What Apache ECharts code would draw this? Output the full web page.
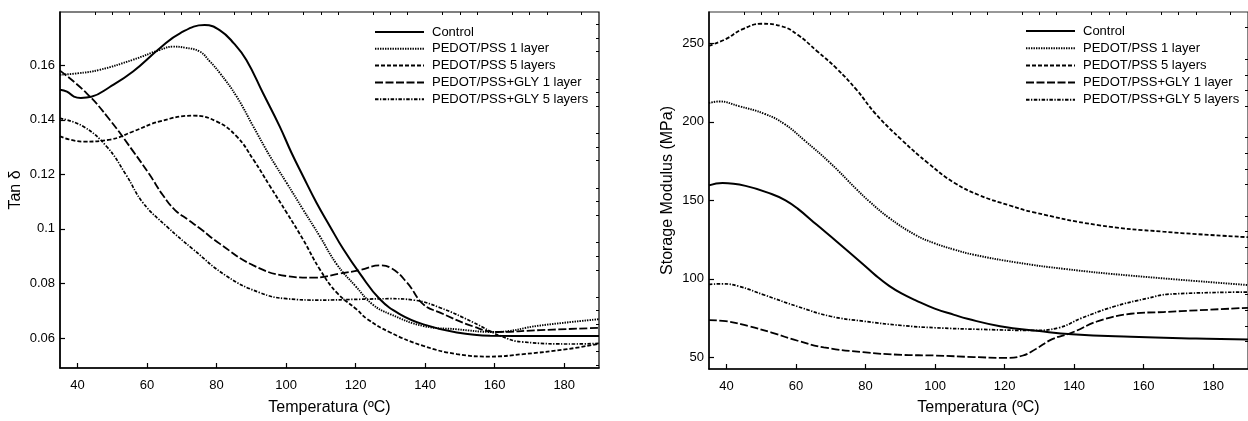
<!DOCTYPE html>
<html>
<head>
<meta charset="utf-8">
<script src="https://cdn.jsdelivr.net/npm/echarts@6/dist/echarts.min.js"></script>
<style>
html,body{margin:0;padding:0;background:#fff;}
#c{width:1248px;height:421px;}
</style>
</head>
<body>
<div id="c"></div>
<script>
// ---------- DATA ----------
const seriesNames = ['Control', 'PEDOT/PSS 1 layer', 'PEDOT/PSS 5 layers', 'PEDOT/PSS+GLY 1 layer', 'PEDOT/PSS+GLY 5 layers'];

// Left chart: Tan δ vs temperature
const tanControlT = [35, 37, 39, 41, 44, 49.3, 56, 63.7, 69.5, 76.6, 81, 85, 88.6, 93.4, 98.2, 101.6, 104.9, 108.8, 112.6, 116.5, 121.3, 127, 132.8, 139.5, 149.1, 158.7, 173, 190];
const tanControlV = [0.151, 0.1503, 0.1485, 0.148, 0.1484, 0.152, 0.1577, 0.1662, 0.1717, 0.1747, 0.1728, 0.168, 0.1619, 0.1497, 0.1375, 0.1278, 0.1193, 0.1095, 0.101, 0.0925, 0.0835, 0.0742, 0.0687, 0.065, 0.062, 0.0608, 0.0607, 0.0607];

const tanP1T = [35, 40, 46.4, 56, 63.7, 67.5, 71, 75.2, 78, 81, 85.8, 90.6, 95.4, 100.2, 104.9, 109.7, 114.6, 120, 125, 130, 139.5, 149.1, 159.7, 173.2, 190];
const tanP1V = [0.1565, 0.157, 0.1583, 0.162, 0.1656, 0.1668, 0.1664, 0.165, 0.1615, 0.1571, 0.1485, 0.1375, 0.1266, 0.1168, 0.1071, 0.0973, 0.087, 0.079, 0.0722, 0.0687, 0.0644, 0.0632, 0.0622, 0.0646, 0.0669];

const tanP5T = [35, 41.6, 49.3, 56, 63.7, 73.3, 80, 85.8, 90.6, 95.4, 100.2, 104.9, 109.7, 114.6, 120.3, 123.3, 130, 139.5, 149.1, 158.7, 168.3, 180.8, 190];
const tanP5V = [0.1339, 0.132, 0.1327, 0.1357, 0.1394, 0.1415, 0.1394, 0.1339, 0.1254, 0.1156, 0.1059, 0.0961, 0.0852, 0.0766, 0.0705, 0.067, 0.062, 0.0571, 0.0541, 0.0532, 0.0541, 0.0559, 0.0579];

const tanG1T = [35, 42.6, 49.3, 56, 60.7, 64.5, 68, 72, 75.2, 81, 90.6, 100.2, 107.8, 115.5, 121.3, 127, 130, 134.8, 139.5, 144.3, 153.9, 160.6, 173.2, 190];
const tanG1V = [0.158, 0.1498, 0.14, 0.1285, 0.12, 0.1125, 0.107, 0.1032, 0.1002, 0.0945, 0.0866, 0.0827, 0.0821, 0.0836, 0.0849, 0.0866, 0.0858, 0.0803, 0.0723, 0.0693, 0.0642, 0.0622, 0.0629, 0.0637];

const tanG5T = [35, 41.6, 48.4, 54, 58.9, 65.6, 73.3, 82.9, 92.5, 100.1, 109.7, 121.3, 130, 136.7, 144.3, 153.9, 161.6, 168.3, 182.7, 190];
const tanG5V = [0.1405, 0.1376, 0.1302, 0.1198, 0.1095, 0.101, 0.0925, 0.0827, 0.0766, 0.0744, 0.0739, 0.0742, 0.0744, 0.0739, 0.0711, 0.0657, 0.0608, 0.0585, 0.0578, 0.058];

// Right chart: Storage modulus (MPa) vs temperature
const smControlT = [35, 38.9, 45.5, 53, 57, 60.5, 66.1, 71.7, 79.3, 83, 86.8, 90.5, 94.3, 99.9, 105.5, 109.3, 118.7, 130, 139.4, 156.3, 175, 190];
const smControlV = [159.5, 161, 159.2, 154, 150, 144.7, 134.2, 123.8, 109.3, 102, 95.5, 90.5, 86.4, 81, 77, 74.5, 69.8, 66.7, 64.6, 63, 61.9, 61.3];

const smP1T = [35, 37.9, 43.6, 51.1, 56.7, 62.4, 69.9, 77.4, 81.1, 86.8, 94.3, 99.9, 105.5, 111.2, 123.4, 137.5, 156.3, 190];
const smP1V = [212, 213, 210, 205, 198.6, 188.3, 173.7, 157.1, 149.3, 138.8, 128, 122.6, 118.6, 115.3, 110.4, 106.2, 102, 96];

const smP5T = [35, 39.8, 44.5, 50.1, 55.8, 60.5, 66.1, 71.7, 77.4, 83, 90.5, 98, 105.5, 113, 121.5, 128.1, 146.9, 165.6, 190];
const smP5V = [248.5, 252.7, 258.9, 262.5, 261, 255.5, 245, 234, 220.5, 204.9, 188.3, 173.7, 161.2, 153, 146.7, 142.5, 134.2, 130, 126.5];

const smG1T = [35, 39.8, 46.4, 53, 60.5, 68, 79.3, 90.5, 99.9, 111.2, 120.5, 125.3, 129, 133.7, 139.4, 146.9, 156.3, 165.6, 190];
const smG1V = [73.6, 73, 69.8, 65.7, 60.5, 56.3, 53.2, 51.5, 51.1, 50.1, 49.6, 51.1, 55.3, 61.5, 65.7, 73, 77.7, 78.8, 81.5];

const smG5T = [35, 38.9, 43.6, 51.1, 60.5, 69.9, 79.3, 90.5, 99.9, 114, 128.1, 135.6, 142.2, 151.5, 161, 167.5, 190];
const smG5V = [96.4, 96.8, 95.2, 89.5, 82.3, 76.1, 73, 70.2, 68.8, 67.7, 67.1, 68.8, 75, 82.3, 87.5, 90.2, 91.5];

// Tick values
const xMajorTicks = [40, 60, 80, 100, 120, 140, 160, 180];
const xMinorTicks = [45, 50, 55, 65, 70, 75, 85, 90, 95, 105, 110, 115, 125, 130, 135, 145, 150, 155, 165, 170, 175, 185];
const tanMajorTicks = [0.06, 0.08, 0.1, 0.12, 0.14, 0.16];
const tanMinorTicks = [0.05, 0.055, 0.065, 0.07, 0.075, 0.085, 0.09, 0.095, 0.105, 0.11, 0.115, 0.125, 0.13, 0.135, 0.145, 0.15, 0.155, 0.165, 0.17, 0.175];
const smMajorTicks = [50, 100, 150, 200, 250];
const smMinorTicks = [60, 70, 80, 90, 110, 120, 130, 140, 160, 170, 180, 190, 210, 220, 230, 240, 260];

// ---------- STYLE ----------
const FONT = 'Liberation Sans, Arial, Helvetica, sans-serif';
const lineStyles = [
  { width: 2, type: 'solid' },
  { width: 1.9, type: [1.4, 1.1] },
  { width: 1.8, type: [4, 2] },
  { width: 1.8, type: [8, 2.5] },
  { width: 1.7, type: [3.5, 1.5, 1.3, 1.5] }
];

function zip(t, v) { return t.map((x, i) => [x, v[i]]); }

const tanData = [zip(tanControlT, tanControlV), zip(tanP1T, tanP1V), zip(tanP5T, tanP5V), zip(tanG1T, tanG1V), zip(tanG5T, tanG5V)];
const smData = [zip(smControlT, smControlV), zip(smP1T, smP1V), zip(smP5T, smP5V), zip(smG1T, smG1V), zip(smG5T, smG5V)];

function mkSeries(data, axisIdx) {
  return data.map((d, i) => ({
    name: seriesNames[i],
    type: 'line',
    xAxisIndex: axisIdx,
    yAxisIndex: axisIdx,
    data: d,
    smooth: 0.45,
    symbol: 'none',
    animation: false,
    lineStyle: Object.assign({ color: '#000' }, lineStyles[i]),
    itemStyle: { color: '#000' }
  }));
}

const axisLine = { show: true, onZero: false, lineStyle: { color: '#000', width: 1.5 } };
const labelStyle = { color: '#000', fontFamily: FONT, fontSize: 13 };
const nameStyle = { color: '#000', fontFamily: FONT, fontSize: 16 };

function xMain(gridIndex, gap, margin) {
  return {
    type: 'value', gridIndex, min: 35, max: 190,
    axisLine,
    axisTick: { show: true, inside: true, length: 5, customValues: xMajorTicks, lineStyle: { color: '#000', width: 1.2 } },
    axisLabel: Object.assign({ customValues: xMajorTicks, margin }, labelStyle),
    splitLine: { show: false },
    name: 'Temperatura (ºC)', nameLocation: 'middle', nameGap: gap, nameTextStyle: nameStyle
  };
}
function xMinor(gridIndex) {
  return {
    type: 'value', gridIndex, min: 35, max: 190,
    axisLine: { show: false, onZero: false },
    axisTick: { show: true, inside: true, length: 3, customValues: xMinorTicks, lineStyle: { color: '#000', width: 1 } },
    axisLabel: { show: false },
    splitLine: { show: false }
  };
}

function legend(left, top, gap) {
  return {
    left, top, padding: 0, orient: 'vertical', itemWidth: 49, itemHeight: 10, itemGap: gap,
    selectedMode: false, data: seriesNames,
    itemStyle: { opacity: 0, borderWidth: 0 },
    textStyle: { color: '#000', fontFamily: FONT, fontSize: 13, lineHeight: 14, padding: [0, 0, 0, 3] }
  };
}

const option = {
  backgroundColor: '#fff',
  animation: false,
  grid: [
    { left: 60, top: 12, width: 539, height: 357, show: true, borderColor: '#000', borderWidth: 1.2, backgroundColor: 'transparent' },
    { left: 709, top: 12, width: 550, height: 365, show: true, borderColor: '#333', borderWidth: 1.2, backgroundColor: 'transparent' }
  ],
  legend: [legend(374, 25, 2.8), legend(1025, 24, 3.2)],
  xAxis: [xMain(0, 32, 11), xMain(1, 31, 11), xMinor(0), xMinor(1)],
  yAxis: [
    {
      type: 'value', gridIndex: 0, min: 0.049, max: 0.1795,
      axisLine,
      axisTick: { show: true, inside: true, length: 5, customValues: tanMajorTicks, lineStyle: { color: '#000', width: 1.2 } },
      axisLabel: Object.assign({ customValues: tanMajorTicks, margin: 5, formatter: v => String(+(+v).toFixed(3)) }, labelStyle),
      splitLine: { show: false },
      name: 'Tan δ', nameLocation: 'middle', nameGap: 36, nameTextStyle: nameStyle
    },
    {
      type: 'value', gridIndex: 1, min: 42.5, max: 270,
      axisLine,
      axisTick: { show: true, inside: true, length: 5, customValues: smMajorTicks, lineStyle: { color: '#000', width: 1.2 } },
      axisLabel: Object.assign({ customValues: smMajorTicks, margin: 5 }, labelStyle),
      splitLine: { show: false },
      name: 'Storage Modulus (MPa)', nameLocation: 'middle', nameGap: 33, nameTextStyle: nameStyle
    },
    {
      type: 'value', gridIndex: 0, min: 0.049, max: 0.1795,
      axisLine: { show: false, onZero: false },
      axisTick: { show: true, inside: true, length: 3, customValues: tanMinorTicks, lineStyle: { color: '#000', width: 1 } },
      axisLabel: { show: false }, splitLine: { show: false }
    },
    {
      type: 'value', gridIndex: 1, min: 42.5, max: 270,
      axisLine: { show: false, onZero: false },
      axisTick: { show: true, inside: true, length: 3, customValues: smMinorTicks, lineStyle: { color: '#000', width: 1 } },
      axisLabel: { show: false }, splitLine: { show: false }
    }
  ],
  series: mkSeries(tanData, 0).concat(mkSeries(smData, 1))
};

const chart = echarts.init(document.getElementById('c'), null, { renderer: 'canvas' });
chart.setOption(option);
</script>
</body>
</html>
